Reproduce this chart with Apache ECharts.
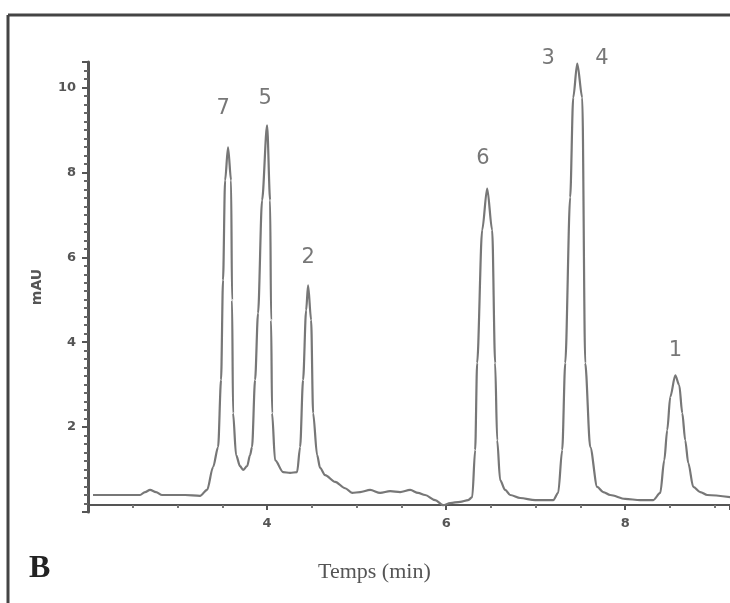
<!DOCTYPE html>
<html>
<head>
<meta charset="utf-8">
<script src="https://cdn.jsdelivr.net/npm/echarts@6/dist/echarts.min.js"></script>
<style>
html,body{margin:0;padding:0;background:#fff}
#chart{width:730px;height:603px}
</style>
</head>
<body>
<div id="chart"></div>
<script>
// chromatogram trace (min, mAU)
var timeMin = [2.056, 2.358, 2.581, 2.637, 2.693, 2.760, 2.827, 3.084, 3.251, 3.330,
    3.397, 3.453, 3.486, 3.508, 3.531, 3.564, 3.598, 3.609, 3.620, 3.654,
    3.698, 3.732, 3.777, 3.810, 3.832, 3.866, 3.899, 3.944, 4.000, 4.034,
    4.045, 4.056, 4.089, 4.179, 4.257, 4.335, 4.369, 4.402, 4.436, 4.458,
    4.492, 4.514, 4.559, 4.592, 4.648, 4.760, 4.872, 4.950, 5.039, 5.151,
    5.263, 5.374, 5.486, 5.598, 5.687, 5.765, 5.877, 5.966, 6.045, 6.156,
    6.246, 6.291, 6.324, 6.346, 6.402, 6.458, 6.514, 6.547, 6.570, 6.603,
    6.659, 6.715, 6.827, 6.994, 7.196, 7.251, 7.296, 7.330, 7.385, 7.419,
    7.464, 7.520, 7.553, 7.609, 7.687, 7.754, 7.832, 7.999, 8.168, 8.313,
    8.391, 8.436, 8.469, 8.503, 8.559, 8.603, 8.637, 8.670, 8.704, 8.760,
    8.838, 8.916, 9.173];
var mAU = [0.40, 0.40, 0.40, 0.47, 0.52, 0.47, 0.40, 0.40, 0.38, 0.52,
    1.06, 1.53, 3.11, 5.46, 7.81, 8.59, 7.81, 4.99, 2.33, 1.34,
    1.08, 0.99, 1.08, 1.34, 1.53, 3.11, 4.68, 7.34, 9.11, 7.34,
    4.52, 2.33, 1.22, 0.94, 0.92, 0.94, 1.53, 3.11, 4.75, 5.34,
    4.52, 2.33, 1.34, 1.04, 0.87, 0.71, 0.56, 0.45, 0.47, 0.52,
    0.45, 0.49, 0.47, 0.52, 0.45, 0.40, 0.28, 0.16, 0.21, 0.24,
    0.28, 0.35, 1.46, 3.51, 6.64, 7.62, 6.64, 3.51, 1.69, 0.75,
    0.52, 0.40, 0.33, 0.28, 0.28, 0.45, 1.46, 3.51, 7.41, 9.76,
    10.56, 9.76, 3.51, 1.53, 0.59, 0.47, 0.40, 0.31, 0.28, 0.28,
    0.45, 1.22, 1.93, 2.71, 3.22, 2.99, 2.33, 1.69, 1.15, 0.59,
    0.47, 0.40, 0.35];

// peak numbers and where they sit
var peakNames = ['7', '5', '2', '6', '3', '4', '1'];
var peakLabelX = [3.51, 3.98, 4.46, 6.41, 7.14, 7.74, 8.56];
var peakLabelY = [9.51, 9.74, 6.00, 8.33, 10.68, 10.68, 3.81];

var trace = timeMin.map(function (t, i) { return [t, mAU[i]]; });
var peaks = peakNames.map(function (n, i) { return { value: [peakLabelX[i], peakLabelY[i]], name: n }; });

var grey = '#555';
var chart = echarts.init(document.getElementById('chart'));
var option = {
    backgroundColor: '#fff',
    animation: false,
    grid: { left: 88, right: 0, top: 62, bottom: 91, outerBoundsMode: 'none', containLabel: false },
    xAxis: {
        type: 'value',
        min: 2,
        max: 9.17,
        interval: 2,
        offset: -7,
        axisLine: { lineStyle: { color: grey, width: 2 } },
        axisTick: { length: 5, lineStyle: { color: grey, width: 2 } },
        minorTick: { show: true, splitNumber: 4, length: 3, lineStyle: { color: '#777', width: 2 } },
        splitLine: { show: false },
        axisLabel: {
            margin: 12,
            color: grey,
            fontSize: 13,
            fontWeight: 'bold',
            fontFamily: 'DejaVu Sans',
            showMaxLabel: false,
            formatter: function (v) { return v === 2 ? '' : v; }
        }
    },
    yAxis: {
        type: 'value',
        min: 0,
        max: 10.6,
        interval: 2,
        name: 'mAU',
        nameLocation: 'middle',
        nameGap: 44,
        nameTextStyle: { color: grey, fontSize: 14, fontWeight: 'bold', fontFamily: 'DejaVu Sans' },
        axisLine: { show: true, lineStyle: { color: grey, width: 3 } },
        axisTick: { show: true, length: 6, lineStyle: { color: grey, width: 2 } },
        minorTick: { show: true, splitNumber: 10, length: 4, lineStyle: { color: '#666', width: 2 } },
        splitLine: { show: false },
        axisLabel: {
            margin: 12,
            color: grey,
            fontSize: 13,
            fontWeight: 'bold',
            fontFamily: 'DejaVu Sans',
            showMaxLabel: false,
            formatter: function (v) { return v === 0 ? '' : v; }
        }
    },
    series: [
        {
            type: 'line',
            data: trace,
            showSymbol: false,
            smooth: 0.3,
            smoothMonotone: 'x',
            clip: false,
            lineStyle: { color: '#777', width: 2.2 }
        },
        {
            type: 'scatter',
            data: peaks,
            symbolSize: 1,
            clip: false,
            itemStyle: { color: 'rgba(0,0,0,0)' },
            label: {
                show: true,
                position: 'inside',
                formatter: '{b}',
                color: grey,
                fontSize: 21,
                fontFamily: 'DejaVu Sans'
            }
        }
    ],
    graphic: [
        { type: 'line', shape: { x1: 8, y1: 15, x2: 730, y2: 15 }, style: { stroke: '#444', lineWidth: 3 } },
        { type: 'line', shape: { x1: 8, y1: 15, x2: 8, y2: 603 }, style: { stroke: '#444', lineWidth: 3 } },
        {
            type: 'text', left: 318, top: 561,
            style: { text: 'Temps (min)', fill: grey, font: '22px "Liberation Serif"' }
        },
        {
            type: 'text', left: 29, top: 553,
            style: { text: 'B', fill: '#222', font: 'bold 32px "Liberation Serif"' }
        }
    ]
};
chart.setOption(option);
window.addEventListener('resize', function () { chart.resize(); });
</script>
</body>
</html>
